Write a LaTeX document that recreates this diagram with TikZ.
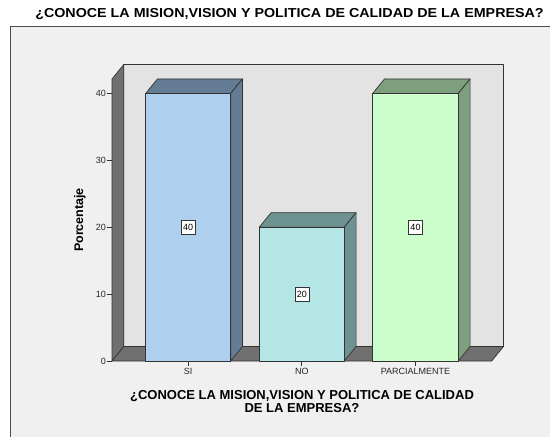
\documentclass[tikz,border=0pt]{standalone}
\usepackage{fontspec}
\setmainfont{Liberation Sans}
\begin{document}
\begin{tikzpicture}[x=1pt,y=-1pt,
  edge/.style={draw=black!80,line width=0.7pt,line join=round},
  tick/.style={draw=black!80,line width=0.7pt},
  ticklab/.style={font=\fontsize{9}{10}\selectfont,text=black!85,inner sep=0pt},
  vallab/.style={draw=black!80,fill=white,line width=0.5pt,font=\fontsize{9}{10}\selectfont,inner sep=1.6pt,minimum width=14pt,minimum height=14pt},
  ttl/.style={font=\bfseries\fontsize{13}{10.7}\selectfont,align=center,inner sep=0pt}]
\definecolor{bg}{HTML}{F0F0F0}
\definecolor{wall}{HTML}{E3E3E3}
\definecolor{dark}{HTML}{707070}
\definecolor{siF}{HTML}{AECFEE}
\definecolor{siS}{HTML}{647D94}
\definecolor{noF}{HTML}{B5E6E6}
\definecolor{noS}{HTML}{6E9191}
\definecolor{paF}{HTML}{CCFECC}
\definecolor{paS}{HTML}{7D9F7D}
\useasboundingbox (0,0) rectangle (550,437);
\fill[white] (0,0) rectangle (550,437);
% outer frame
\fill[bg] (10,26.5) rectangle (551,438);
\draw[draw=black!70,line width=0.7pt] (10,438) -- (10,26.5) -- (551,26.5);
% title
\node[ttl] (title) at (289.5,14) {\scalebox{1.1}[1]{¿CONOCE LA MISION,VISION Y POLITICA DE CALIDAD DE LA EMPRESA?}};
% 3D box
\def\dx{11.8}\def\dy{-14.5}
% back wall
\filldraw[edge,fill=wall] (123.8,64.5) rectangle (503.5,346.5);
% left wall
\filldraw[edge,fill=dark] (112,79) -- (123.8,64.5) -- (123.8,346.5) -- (112,361) -- cycle;
% floor
\filldraw[edge,fill=dark] (112,361) -- (491.7,361) -- (503.5,346.5) -- (123.8,346.5) -- cycle;
% y ticks
\foreach \v in {0,10,20,30,40}{
  \draw[tick] (106.5,{361-6.69*\v}) -- (112,{361-6.69*\v});
  \node[ticklab,anchor=east] (yt\v) at (106,{361-6.69*\v}) {\v};
}
% bars
\foreach \xl/\xr/\val/\cf/\cs in {145.7/230.7/40/siF/siS, 259.3/344.3/20/noF/noS, 372.7/458.3/40/paF/paS}{
  \pgfmathsetmacro\yt{361-6.69*\val}
  \filldraw[edge,fill=\cs] (\xl,\yt) -- (\xl+\dx,\yt+\dy) -- (\xr+\dx,\yt+\dy) -- (\xr,\yt) -- cycle;
  \filldraw[edge,fill=\cs] (\xr,\yt) -- (\xr+\dx,\yt+\dy) -- (\xr+\dx,361+\dy) -- (\xr,361) -- cycle;
  \filldraw[edge,fill=\cf] (\xl,\yt) rectangle (\xr,361);
}
% value labels
\node[vallab] (vsi) at (188.2,227) {40};
\node[vallab] (vno) at (301.8,294.2) {20};
\node[vallab] (vpa) at (415.5,227) {40};
% x ticks and labels
\foreach \c/\t/\n in {188.2/SI/si, 301.8/NO/no, 415.5/PARCIALMENTE/pa}{
  \draw[tick] (\c,361) -- (\c,365.5);
  \node[ticklab,anchor=north] (xl\n) at (\c,368.5) {\t};
}
% axis titles
\node[ttl] (xtitle) at (302,401.5) {¿CONOCE LA MISION,VISION Y POLITICA DE CALIDAD\\DE LA EMPRESA?};
\node[ttl,font=\bfseries\fontsize{12.5}{13}\selectfont,rotate=90] (ytitle) at (80,220) {Porcentaje};
\end{tikzpicture}
\end{document}
